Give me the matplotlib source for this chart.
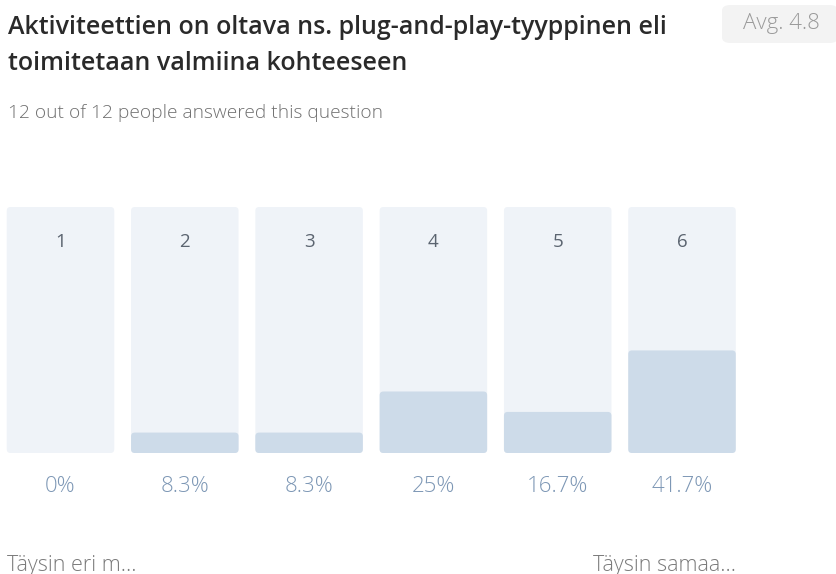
import matplotlib.pyplot as plt
from matplotlib.patches import FancyBboxPatch

# answer distribution for the statement
scale_labels = ["1", "2", "3", "4", "5", "6"]
shares = [0.0, 8.3, 8.3, 25.0, 16.7, 41.7]
pct_labels = ["0%", "8.3%", "8.3%", "25%", "16.7%", "41.7%"]
title_lines = ["Aktiviteettien on oltava ns. plug-and-play-tyyppinen eli",
               "toimitetaan valmiina kohteeseen"]
subtitle = "12 out of 12 people answered this question"
avg_text = "Avg. 4.8"
low_end = "Täysin eri m..."
high_end = "Täysin samaa..."

plt.rcParams['font.family'] = ['Open Sans', 'DejaVu Sans']

W, H = 836, 574
fig = plt.figure(figsize=(W / 100, H / 100), dpi=100)
fig.patch.set_facecolor("white")

# bars area: 0..100 % mapped to pixel rows 453..207
ax = fig.add_axes([0, (H - 453) / H, 1, 246 / H])
step = 124.3
x0 = 60.5
ax.set_xlim(-x0 / step, (W - x0) / step)
ax.set_ylim(0, 100)
ax.axis("off")

bar_w = 107.5 / step
aspect = (100 / 246) / (1 / step)
for i, (lab, v) in enumerate(zip(scale_labels, shares)):
    bg = FancyBboxPatch((i - bar_w / 2, 0), bar_w, 100,
                        boxstyle="round,pad=0,rounding_size=0.03",
                        mutation_aspect=aspect, fc="#eff3f8", ec="none")
    ax.add_patch(bg)
    if v > 0:
        fg = FancyBboxPatch((i - bar_w / 2, 0), bar_w, v,
                            boxstyle="round,pad=0,rounding_size=0.03",
                            mutation_aspect=aspect, fc="#cddbe9", ec="none")
        ax.add_patch(fg)
    ax.text(i, 85.8, lab, ha="center", va="center", fontsize=13.5,
            color="#5b6470", fontweight="medium")
    ax.text(i, -13.8, pct_labels[i], ha="center", va="center",
            fontsize=16, color="#7d97b5", fontweight="light")

fig.text(7 / W, 1 - 565 / H, low_end, ha="left", va="center",
         fontsize=15.5, color="#7a7a7a", fontweight="light")
fig.text(736 / W, 1 - 565 / H, high_end, ha="right", va="center",
         fontsize=15.5, color="#7a7a7a", fontweight="light")

# header
fig.text(8 / W, 1 - 27 / H, title_lines[0], ha="left", va="center",
         fontsize=18, color="#2a2a2a", fontweight="semibold")
fig.text(8 / W, 1 - 63 / H, title_lines[1], ha="left", va="center",
         fontsize=18, color="#2a2a2a", fontweight="semibold")
fig.text(8 / W, 1 - 113 / H, subtitle, ha="left", va="center",
         fontsize=13.8, color="#707070", fontweight="light")

box = FancyBboxPatch((722 / W, 1 - 43 / H), 116 / W, 38 / H,
                     boxstyle="round,pad=0,rounding_size=0.01",
                     transform=fig.transFigure, fc="#f3f3f3", ec="none")
fig.patches.append(box)
fig.text(781 / W, 1 - 24 / H, avg_text, ha="center", va="center",
         fontsize=16, color="#9a9a9a", fontweight="light")

fig.savefig("out.png", dpi=100)
